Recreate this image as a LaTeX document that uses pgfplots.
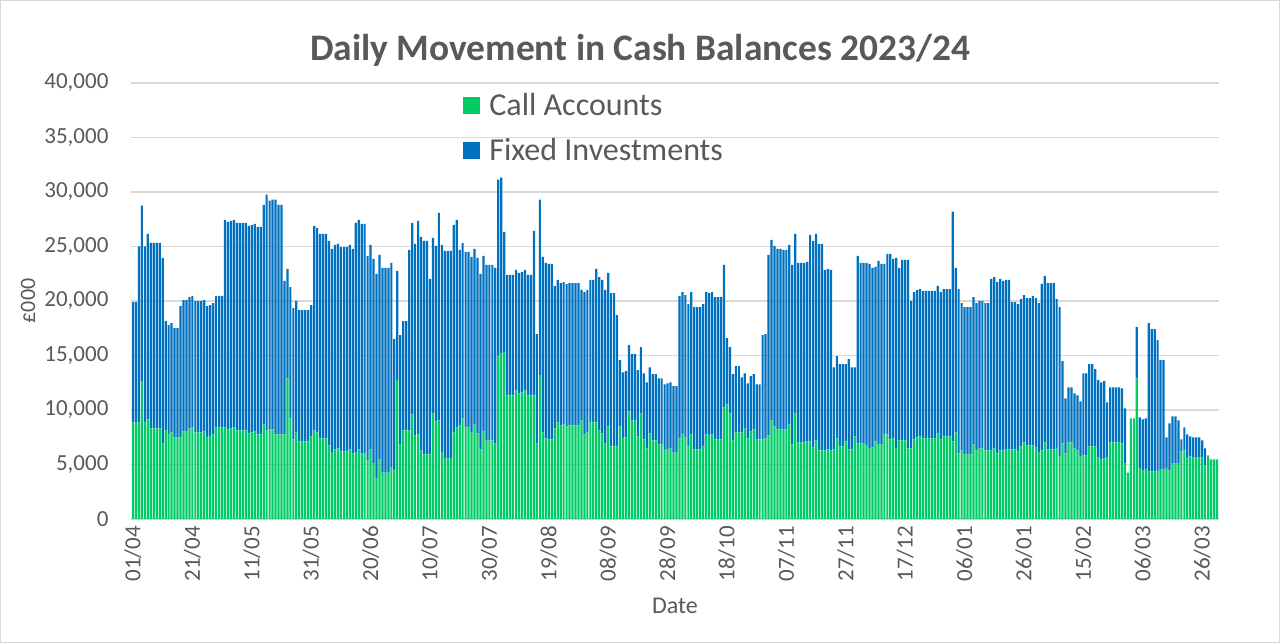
\documentclass[border=0pt]{standalone}
\usepackage{pgfplots}
\usepackage{pgfplotstable}
\pgfplotsset{compat=1.18}
\usepackage{fontspec}
\setmainfont{Carlito}
\definecolor{callgreen}{HTML}{00CC66}
\definecolor{fixblue}{HTML}{0070C0}
\definecolor{txtgray}{HTML}{595959}
\definecolor{gridgray}{HTML}{D9D9D9}
\pgfplotstableread{
d call fixed
0 8860 11040
1 8860 11040
2 8860 16140
3 12640 16100
4 8860 16140
5 9140 17020
6 8310 17020
7 8310 17020
8 8310 17020
9 8310 17020
10 6930 17020
11 8130 10030
12 7760 10030
13 7940 10030
14 7480 10030
15 7480 10030
16 7480 12060
17 8040 12050
18 8040 12050
19 8310 12050
20 8400 12060
21 7940 12060
22 7940 12060
23 7940 12060
24 8040 12050
25 7480 12060
26 7580 12050
27 7760 12050
28 8400 12060
29 8400 12060
30 8400 12060
31 8400 19050
32 8220 19050
33 8310 19050
34 8400 19050
35 8130 19040
36 8130 19040
37 8130 19040
38 8130 19040
39 7850 19050
40 7940 19050
41 8040 19040
42 7760 19050
43 7760 19050
44 8680 20150
45 8130 21620
46 8220 20980
47 8220 21070
48 7760 21530
49 7760 21070
50 7760 21070
51 7760 14080
52 12910 10030
53 9230 12050
54 7300 12050
55 7940 12060
56 7120 12050
57 7120 12050
58 7120 12050
59 7120 12050
60 7580 12050
61 8130 18770
62 7940 18770
63 7390 18770
64 7390 18770
65 7390 18770
66 6750 18770
67 6010 18770
68 6380 18770
69 6470 18770
70 6200 18770
71 6200 18770
72 6200 18770
73 6380 18770
74 6010 18770
75 6100 21070
76 6380 21070
77 6010 21070
78 6010 21070
79 5370 18770
80 6380 18770
81 5090 18770
82 3710 18770
83 5460 18770
84 4260 18770
85 4260 18770
86 4260 18770
87 4720 18770
88 4450 12050
89 12730 10030
90 6840 10030
91 8130 10030
92 8130 10030
93 8130 16560
94 9600 17570
95 7670 17570
96 7760 19600
97 6290 19600
98 5920 19600
99 5920 19600
100 5920 16100
101 9690 16100
102 8960 16100
103 9050 19040
104 6100 19050
105 5550 19050
106 5550 19050
107 5550 19050
108 7940 19050
109 8400 19050
110 8590 16100
111 9230 16100
112 8400 16100
113 8400 16100
114 7940 16110
115 8680 16100
116 7850 16100
117 6380 16100
118 8040 16100
119 7210 16100
120 7210 16100
121 7210 16100
122 6930 16100
123 15030 16100
124 15210 16100
125 15300 11050
126 11350 11040
127 11350 11040
128 11350 11040
129 11810 11040
130 11530 11040
131 11620 11040
132 11810 11040
133 11350 11040
134 11350 11040
135 11350 15090
136 6930 10030
137 13190 16100
138 7940 16110
139 7390 16100
140 7300 16100
141 7300 16100
142 8310 13070
143 8860 13070
144 8590 13060
145 8680 13060
146 8500 13060
147 8590 13060
148 8590 13060
149 8590 13060
150 8590 13060
151 9050 11960
152 7760 13060
153 7940 13070
154 8860 13070
155 8860 13070
156 8860 14080
157 8130 14070
158 7850 14080
159 6930 14080
160 8500 14070
161 6660 14070
162 6660 14070
163 6660 12050
164 8500 6070
165 7390 6070
166 7480 6080
167 9880 6070
168 9050 6070
169 9050 6070
170 7580 6070
171 9690 6070
172 7300 6070
173 6470 6070
174 7850 6070
175 7210 6070
176 7210 6070
177 6840 6070
178 6840 6070
179 6290 6070
180 6380 6070
181 6470 6070
182 6100 6080
183 6100 6080
184 7390 13070
185 7760 13060
186 7480 13070
187 6660 13060
188 7760 13060
189 6380 13060
190 6380 13060
191 6380 13060
192 6660 13060
193 7760 13060
194 7670 13060
195 7760 13060
196 7300 13060
197 7300 13060
198 7300 13060
199 10240 13070
200 10520 6070
201 9690 6070
202 7210 6070
203 7940 6080
204 7940 6080
205 7940 5060
206 8310 5060
207 7390 5060
208 8040 5060
209 8220 5060
210 7300 5060
211 7300 5060
212 7300 9570
213 7390 9570
214 7670 16560
215 9050 16560
216 8500 16560
217 8220 16560
218 8220 16560
219 8220 16470
220 8220 16470
221 8680 16470
222 6840 16470
223 9690 16470
224 7020 16470
225 7020 16470
226 7020 16470
227 7120 16470
228 7120 18950
229 6560 18960
230 7210 18950
231 6290 18950
232 6290 18950
233 6290 16560
234 6380 16560
235 6290 16560
236 6380 7540
237 7390 7550
238 6660 7540
239 6660 7540
240 7120 7080
241 6380 8280
242 6380 7540
243 7580 6340
244 6930 17210
245 6930 16560
246 6930 16560
247 6750 16740
248 6470 16930
249 6560 16470
250 7120 16000
251 6840 16840
252 6840 16560
253 7760 15640
254 7760 16560
255 7300 17020
256 7390 16470
257 6470 17480
258 7210 15820
259 7210 16560
260 7210 16560
261 6470 17300
262 6470 13530
263 7300 13520
264 7480 13530
265 7580 13520
266 7390 13530
267 7390 13530
268 7390 13530
269 7390 13530
270 7390 13530
271 7850 13530
272 7300 13520
273 7580 13520
274 7580 13520
275 7580 13520
276 7120 21070
277 7940 15090
278 6010 15090
279 6290 13520
280 5920 13520
281 5920 13520
282 5920 13520
283 6840 13520
284 6290 13520
285 6470 13530
286 6470 13530
287 6290 13520
288 6290 13520
289 6290 15730
290 6470 15730
291 6010 15730
292 6290 15730
293 6290 15550
294 6380 15550
295 6380 15550
296 6380 13520
297 6380 13520
298 6200 13520
299 6660 13520
300 7020 13530
301 6750 13520
302 6750 13520
303 6750 13710
304 6560 13710
305 6100 13710
306 6290 15270
307 7020 15280
308 6380 15270
309 6380 15270
310 6380 15270
311 6470 13710
312 5740 13700
313 6930 7550
314 6010 5060
315 7020 5060
316 7020 5060
317 6470 5060
318 6290 5060
319 5740 5060
320 5830 7540
321 5830 7540
322 6660 7540
323 6660 7540
324 6660 7080
325 5640 7090
326 5460 7080
327 5550 7090
328 5640 5060
329 7020 5060
330 7020 5060
331 7020 5060
332 7020 5060
333 6930 5060
334 5090 5060
335 4260 0
336 9230 0
337 9230 0
338 12910 4690
339 4630 4690
340 4450 4690
341 4540 4690
342 4360 13610
343 4360 13060
344 4360 13060
345 4360 12050
346 4540 10030
347 4540 10030
348 4630 2850
349 4450 4320
350 5090 4330
351 5090 4330
352 5090 3960
353 6200 1100
354 6290 2110
355 5640 2120
356 5740 1840
357 5640 1840
358 5640 1840
359 5640 1840
360 5640 1570
361 4910 1560
362 5830 0
363 5460 0
364 5460 0
365 5460 0
}\cashdata
\begin{document}
\begin{tikzpicture}
\useasboundingbox (0,0) rectangle (640pt,321.5pt);
\draw[gridgray, line width=0.6pt] (0.3pt,0.3pt) rectangle (639.7pt,321.2pt);
\begin{axis}[
  at={(65.75pt,62pt)}, anchor=south west,
  scale only axis, width=543.5pt, height=218pt,
  ybar stacked, bar width=0.74,
  xmin=-0.5, xmax=365.5, ymin=0, ymax=40000,
  enlarge x limits=false,
  axis x line*=bottom, axis y line*=left,
  x axis line style={draw=gridgray, line width=0.8pt, -},
  y axis line style={draw=none},
  ymajorgrids, grid style={draw=gridgray, line width=0.8pt},
  major tick length=0pt,
  xtick={0,20,...,360},
  xticklabels={01/04,21/04,11/05,31/05,20/06,10/07,30/07,19/08,08/09,28/09,18/10,07/11,27/11,17/12,06/01,26/01,15/02,06/03,26/03},
  xticklabel style={rotate=90, anchor=east, text=txtgray, font=\fontsize{11.5}{13}\selectfont},
  ytick={0,5000,...,40000},
  scaled y ticks=false,
  yticklabel style={text=txtgray, font=\fontsize{11.5}{13}\selectfont, xshift=-8pt},
  /pgf/number format/assume math mode=true,
  /pgf/number format/1000 sep={,},
  xlabel={Date},
  xlabel style={at={(axis description cs:0.5,0)}, anchor=center, yshift=-43.5pt, text=txtgray, font=\fontsize{12}{14}\selectfont},
  ylabel={£000},
  every axis y label/.style={at={(axis description cs:-0.0952,0.5)}, anchor=center, rotate=90, text=txtgray, font=\fontsize{11}{13}\selectfont},
  title={Daily Movement in Cash Balances 2023/24},
  every axis title/.style={at={(axis description cs:0.468,1)}, anchor=center, yshift=16.5pt, text=txtgray, font=\bfseries\fontsize{18.7}{22}\selectfont},
  legend style={at={(rel axis cs:0.305,0.987)}, anchor=north west, draw=none, fill=none,
    font=\fontsize{16}{19}\selectfont, text=txtgray, row sep=6pt, inner sep=0pt},
  legend cell align=left,
]
\addplot[fill=callgreen, draw=none,
  legend image code/.code={\fill[callgreen] (0pt,-4.25pt) rectangle (8.5pt,4.25pt); \path (11pt,0pt);}]
  table[x=d, y=call] {\cashdata};
\addlegendentry{Call Accounts}
\addplot[fill=fixblue, draw=none,
  legend image code/.code={\fill[fixblue] (0pt,-4.25pt) rectangle (8.5pt,4.25pt); \path (11pt,0pt);}]
  table[x=d, y=fixed] {\cashdata};
\addlegendentry{Fixed Investments}
\end{axis}
\end{tikzpicture}
\end{document}
